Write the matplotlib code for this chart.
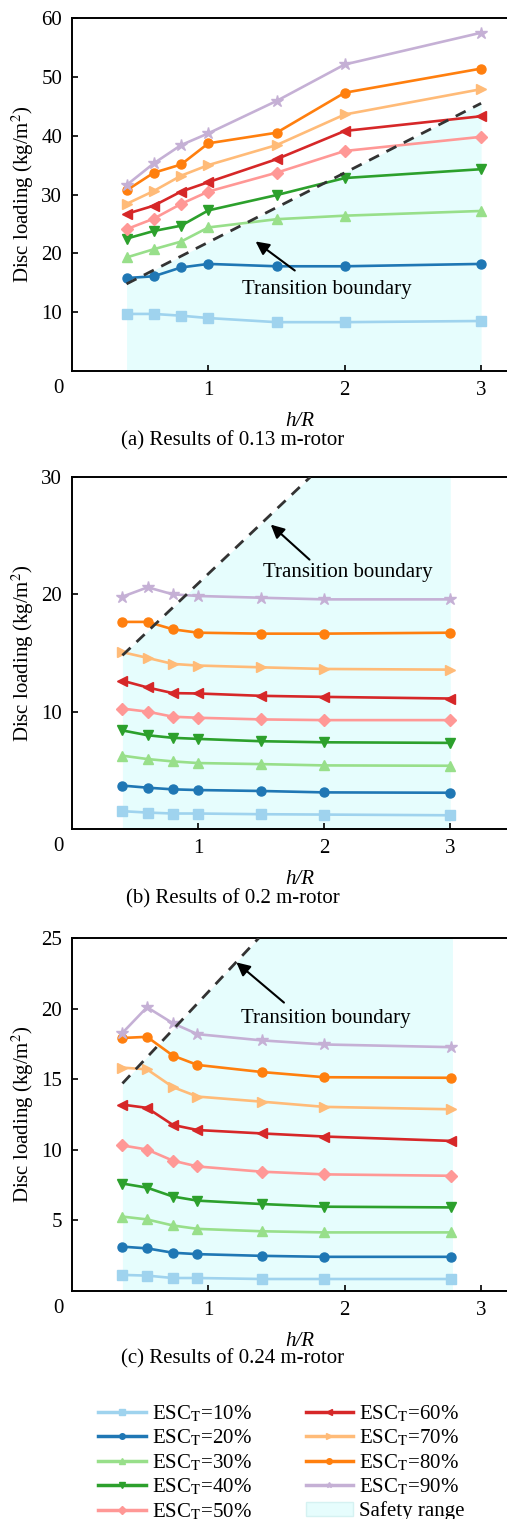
#!/usr/bin/env python3

import matplotlib
matplotlib.use("Agg")
import matplotlib.pyplot as plt
from matplotlib.lines import Line2D
from matplotlib.patches import Patch

plt.rcParams["font.family"] = ["Liberation Serif", "DejaVu Serif"]
plt.rcParams["mathtext.fontset"] = "stix"
plt.rcParams["font.size"] = 15

# Series labels, colours, markers
esc_levels = [10, 20, 30, 40, 50, 60, 70, 80, 90]
colors = ["#9fd3ee", "#1f77b4", "#98df8a", "#2ca02c", "#ff9896",
          "#d62728", "#ffbb78", "#ff7f0e", "#c5b0d5"]
markers = ["s", "o", "^", "v", "D", "<", ">", "o", "*"]

# (a) 0.13 m rotor
hr_a = [0.4, 0.6, 0.8, 1.0, 1.5, 2.0, 3.0]
dl_a = [
    [9.7, 9.7, 9.4, 9.0, 8.3, 8.3, 8.5],
    [15.8, 16.1, 17.6, 18.2, 17.8, 17.8, 18.2],
    [19.3, 20.7, 22.0, 24.4, 25.8, 26.4, 27.2],
    [22.5, 23.8, 24.7, 27.3, 29.9, 32.8, 34.3],
    [24.1, 25.9, 28.4, 30.5, 33.7, 37.4, 39.8],
    [26.7, 28.1, 30.5, 32.1, 36.0, 40.8, 43.3],
    [28.4, 30.6, 33.2, 35.0, 38.4, 43.6, 47.9],
    [30.7, 33.7, 35.1, 38.7, 40.5, 47.3, 51.4],
    [31.6, 35.3, 38.4, 40.4, 45.9, 52.1, 57.5],
]
bound_a_x = [0.4, 3.0]
bound_a_y = [14.8, 45.5]
safe_a_x = [0.4, 3.0]
safe_a_y = [14.8, 45.5]

# (b) 0.2 m rotor
hr_b = [0.4, 0.6, 0.8, 1.0, 1.5, 2.0, 3.0]
dl_b = [
    [1.52, 1.40, 1.32, 1.32, 1.26, 1.23, 1.17],
    [3.70, 3.52, 3.38, 3.32, 3.24, 3.12, 3.09],
    [6.25, 5.96, 5.76, 5.62, 5.53, 5.42, 5.39],
    [8.40, 7.99, 7.77, 7.68, 7.48, 7.39, 7.34],
    [10.26, 10.0, 9.57, 9.48, 9.34, 9.28, 9.28],
    [12.64, 12.06, 11.58, 11.55, 11.35, 11.26, 11.12],
    [15.07, 14.58, 14.07, 13.93, 13.78, 13.64, 13.58],
    [17.65, 17.65, 17.02, 16.73, 16.65, 16.65, 16.73],
    [19.8, 20.6, 20.0, 19.86, 19.71, 19.57, 19.57],
]
bound_b_x = [0.4, 1.89]
bound_b_y = [14.8, 30.0]
safe_b_x = [0.4, 1.89, 3.0]
safe_b_y = [14.8, 30.0, 30.0]

# (c) 0.24 m rotor
hr_c = [0.37, 0.55, 0.74, 0.92, 1.39, 1.85, 2.78]
dl_c = [
    [1.14, 1.09, 0.92, 0.92, 0.85, 0.85, 0.85],
    [3.14, 3.02, 2.71, 2.61, 2.49, 2.42, 2.42],
    [5.27, 5.07, 4.64, 4.40, 4.23, 4.15, 4.15],
    [7.61, 7.32, 6.69, 6.40, 6.16, 5.97, 5.92],
    [10.31, 10.02, 9.23, 8.82, 8.45, 8.26, 8.16],
    [13.2, 12.97, 11.76, 11.40, 11.16, 10.94, 10.63],
    [15.82, 15.7, 14.44, 13.77, 13.41, 13.04, 12.87],
    [17.92, 18.0, 16.67, 16.01, 15.51, 15.14, 15.1],
    [18.28, 20.1, 18.96, 18.19, 17.75, 17.46, 17.27],
]
bound_c_x = [0.37, 1.37]
bound_c_y = [14.7, 25.0]
safe_c_x = [0.37, 1.37, 2.79]
safe_c_y = [14.7, 25.0, 25.0]

safe_color = "#e6fdfd"


def draw_panel(ax, hr, dl, bx, by, sx, sy, xmax, ymax, yticks,
               text_xy, arrow_tail, arrow_head, caption, cap_y):
    ax.fill_between(sx, 0, sy, color=safe_color, lw=0, zorder=0)
    for i in range(len(esc_levels)):
        ms = 9 if markers[i] == "*" else 6.5
        ax.plot(hr, dl[i], color=colors[i], marker=markers[i], ms=ms,
                lw=1.9, zorder=2)
    ax.plot(bx, by, color="#333333", ls=(0, (4, 3)), lw=2, zorder=3)
    ax.annotate("", xy=arrow_head, xytext=arrow_tail,
                arrowprops=dict(arrowstyle="-|>", color="black", lw=1.5,
                                mutation_scale=20), zorder=4)
    ax.text(text_xy[0], text_xy[1], "Transition boundary", ha="center",
            va="center", zorder=4)

    ax.set_xlim(0, xmax)
    ax.set_ylim(0, ymax)
    ax.set_xticks([1, 2, 3])
    ax.set_yticks(yticks)
    ax.tick_params(direction="in", length=4, width=1.2, pad=7)
    ax.spines["right"].set_visible(False)
    for s in ["left", "bottom", "top"]:
        ax.spines[s].set_linewidth(1.4)
    ax.text(-0.032, -0.05, "0", transform=ax.transAxes, ha="center",
            va="center")
    ax.set_ylabel("Disc loading (kg/m$^2$)", labelpad=4)
    ax.set_xlabel("h/R", fontstyle="italic")
    ax.xaxis.set_label_coords((300 - 72) / 435, -0.117)
    fig.text(233 / 507, cap_y, caption, ha="center", va="center")


fig = plt.figure(figsize=(5.07, 15.19), dpi=100)
H = 1519.0
ax_a = fig.add_axes([72 / 507, 1 - 371 / H, 435 / 507, 353 / H])
ax_b = fig.add_axes([72 / 507, 1 - 829 / H, 435 / 507, 352 / H])
ax_c = fig.add_axes([72 / 507, 1 - 1291 / H, 435 / 507, 353 / H])

draw_panel(ax_a, hr_a, dl_a, bound_a_x, bound_a_y, safe_a_x, safe_a_y,
           3.19, 60, [10, 20, 30, 40, 50, 60],
           (1.87, 13.9), (1.65, 16.8), (1.33, 22.3),
           "(a) Results of 0.13 m-rotor", 1 - 441 / H)
draw_panel(ax_b, hr_b, dl_b, bound_b_x, bound_b_y, safe_b_x, safe_b_y,
           3.45, 30, [10, 20, 30],
           (2.19, 21.9), (1.90, 22.8), (1.56, 26.1),
           "(b) Results of 0.2 m-rotor", 1 - 899 / H)
draw_panel(ax_c, hr_c, dl_c, bound_c_x, bound_c_y, safe_c_x, safe_c_y,
           3.19, 25, [5, 10, 15, 20, 25],
           (1.86, 19.3), (1.57, 20.3), (1.19, 23.4),
           "(c) Results of 0.24 m-rotor", 1 - 1359 / H)

handles = []
labels = []
for i, lev in enumerate(esc_levels):
    handles.append(Line2D([], [], color=colors[i], marker=markers[i],
                          ms=4, lw=2.5))
    labels.append("ESC$_\\mathrm{T}$=%d%%" % lev)
handles.append(Patch(facecolor=safe_color, edgecolor="#d5f2f2"))
labels.append("Safety range")

fig.legend(handles, labels, ncol=2, loc="upper left",
           bbox_to_anchor=(88 / 507, 1 - 1393 / H), frameon=False,
           handlelength=2.3, handletextpad=0.25,
           labelspacing=0.18, columnspacing=2.6, borderpad=0)

fig.savefig("out.png", dpi=100)
